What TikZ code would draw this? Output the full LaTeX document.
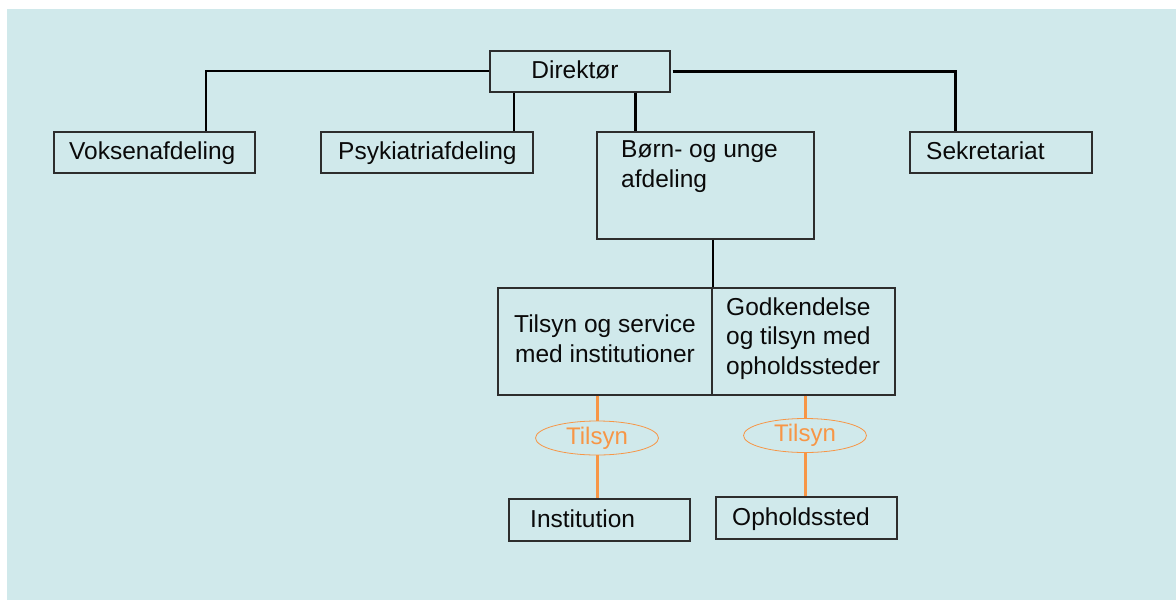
\documentclass[tikz,border=0pt]{standalone}
\usepackage{fontspec}
\setmainfont{Liberation Sans}
\usetikzlibrary{shapes.geometric}
\definecolor{bg}{RGB}{208,233,235}
\definecolor{boxline}{RGB}{45,45,45}
\definecolor{orgline}{RGB}{247,150,70}
\definecolor{txt}{RGB}{10,10,10}
\begin{document}
\begin{tikzpicture}[x=1pt,y=-1pt,
  box/.style={draw=boxline,line width=1.6pt,inner sep=0pt,anchor=north west},
  lbl/.style={inner sep=0pt,text=txt,font=\fontsize{24.5}{29.5}\selectfont},
  conn/.style={line width=2pt,black},
  connthick/.style={line width=3pt,black},
  tilsyn/.style={ellipse,draw=orgline,line width=0.8pt,minimum width=123pt,minimum height=34pt,inner sep=0pt,text=orgline,font=\fontsize{24}{29}\selectfont},
  orgconn/.style={draw=orgline,line width=3pt}]
\useasboundingbox (0,0) rectangle (1176,600);
\fill[white] (0,0) rectangle (1176,600);
\fill[bg] (7,9) rectangle (1176,600);

% boxes
\node[box,minimum width=180pt,minimum height=41pt] (dir) at (489,50) {};
\node[box,minimum width=201pt,minimum height=41pt] (vok) at (53,131) {};
\node[box,minimum width=212pt,minimum height=41pt] (psyk) at (320,131) {};
\node[box,minimum width=217pt,minimum height=107pt] (born) at (596,131) {};
\node[box,minimum width=182pt,minimum height=41pt] (sek) at (909,131) {};
\node[box,minimum width=214pt,minimum height=107pt] (tsv) at (497,287) {};
\node[box,minimum width=183pt,minimum height=107pt] (god) at (711,287) {};
\node[box,minimum width=181pt,minimum height=42pt] (inst) at (508,498) {};
\node[box,minimum width=181pt,minimum height=42pt] (oph) at (715,496) {};

% ellipses
\node[tilsyn] (e1) at (597,438) {Tilsyn};
\node[tilsyn] (e2) at (805,435.5) {Tilsyn};

% texts (multi-line nodes: base = last line)
\node[lbl,anchor=base] (tdir) at (575,78) {Direktør};
\node[lbl,anchor=base west] (tvok) at (69,159) {Voksenafdeling};
\node[lbl,anchor=base west] (tpsyk) at (338,159) {Psykiatriafdeling};
\node[lbl,anchor=base west] (tsek) at (926,159) {Sekretariat};
\node[lbl,anchor=base west,align=left] (tborn) at (621,187) {Børn- og unge\\afdeling};
\node[lbl,anchor=base,align=center] (ttsv) at (605,362) {Tilsyn og service\\med institutioner};
\node[lbl,anchor=base west,align=left] (tgod) at (726,374) {Godkendelse\\og tilsyn med\\opholdssteder};
\node[lbl,anchor=base west] (tinst) at (530,527) {Institution};
\node[lbl,anchor=base west] (toph) at (732,525) {Opholdssted};

% connectors
\draw[conn] (dir.west) -| ([xshift=51.5pt]vok.north);
\draw[conn] ([xshift=-66pt]dir.south) -- ([xshift=-66pt]dir.south |- psyk.north);
\draw[connthick] ([xshift=56pt]dir.south) -- ([xshift=56pt]dir.south |- born.north);
\draw[connthick] ([xshift=2pt]dir.east) -| ([xshift=-45pt]sek.north);
\draw[conn] (born.south -| tsv.north east) -- (tsv.north east);

\draw[orgconn] (tsv.south -| e1.north) -- (e1.north);
\draw[orgconn] (e1.south) -- (e1.south |- inst.north);
\draw[orgconn] (god.south -| e2.north) -- (e2.north);
\draw[orgconn] (e2.south) -- (e2.south |- oph.north);
\end{tikzpicture}
\end{document}
